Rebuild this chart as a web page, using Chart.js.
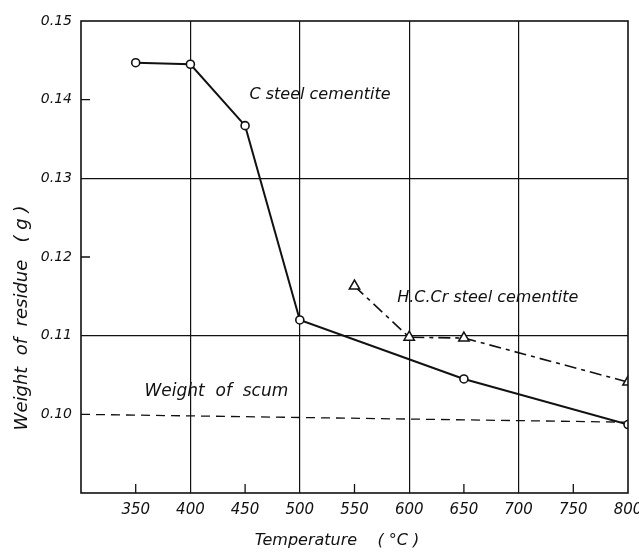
<!DOCTYPE html>
<html>
<head>
<meta charset="utf-8">
<script src="https://cdn.jsdelivr.net/npm/chart.js@4"></script>
<style>
  html, body { margin: 0; padding: 0; background: #fff; }
  #wrap { width: 639px; height: 552px; }
</style>
</head>
<body>
<div id="wrap"><canvas id="residueChart" width="639" height="552"></canvas></div>
<script>
// temperatures (°C) and residue weights (g)
const cSteelTemp = [350, 400, 450, 500, 650, 800];
const cSteelWeight = [0.1447, 0.1445, 0.1367, 0.1120, 0.1045, 0.0987];

const hccrTemp = [550, 600, 650, 800];
const hccrWeight = [0.1163, 0.1098, 0.1097, 0.1041];

const scumTemp = [300, 800];
const scumWeight = [0.1000, 0.0990];

const xTicks = [350, 400, 450, 500, 550, 600, 650, 700, 750, 800];
const yTicks = [0.10, 0.11, 0.12, 0.13, 0.14, 0.15];
const xGridFull = [400, 500, 600, 700];
const yGridFull = [0.11, 0.13];

const ink = "#111";

function pts(xs, ys) {
  return xs.map((x, i) => ({ x: x, y: ys[i] }));
}

// frame, short inner ticks, curve labels and axis titles
const paperPlugin = {
  id: "paper",
  afterDraw(chart) {
    const { ctx, chartArea: a, scales } = chart;
    const x = scales.x, y = scales.y;
    ctx.save();
    ctx.strokeStyle = ink;
    ctx.lineWidth = 1.6;
    ctx.strokeRect(a.left, a.top, a.right - a.left, a.bottom - a.top);

    ctx.lineWidth = 1.3;
    ctx.beginPath();
    xTicks.filter(v => !xGridFull.includes(v) && v !== 800).forEach(v => {
      const px = x.getPixelForValue(v);
      ctx.moveTo(px, a.bottom);
      ctx.lineTo(px, a.bottom - 9);
    });
    [0.12, 0.14].forEach(v => {
      const py = y.getPixelForValue(v);
      ctx.moveTo(a.left, py);
      ctx.lineTo(a.left + 9, py);
    });
    ctx.stroke();

    ctx.fillStyle = ink;
    ctx.textBaseline = "middle";
    ctx.textAlign = "left";
    ctx.font = "italic 16px 'DejaVu Sans'";
    ctx.fillText("C steel cementite", x.getPixelForValue(454), y.getPixelForValue(0.1406));
    ctx.fillText("H.C.Cr steel cementite", x.getPixelForValue(589), y.getPixelForValue(0.1148));
    ctx.font = "italic 17px 'DejaVu Sans'";
    ctx.fillText("Weight  of  scum", x.getPixelForValue(358), y.getPixelForValue(0.1029));

    ctx.font = "italic 16px 'DejaVu Sans'";
    ctx.textAlign = "center";
    ctx.fillText("Temperature    ( °C )", 337, 541);

    ctx.translate(22, 318);
    ctx.rotate(-Math.PI / 2);
    ctx.font = "italic 18px 'DejaVu Sans'";
    ctx.fillText("Weight  of  residue   ( g )", 0, 0);
    ctx.restore();
  }
};

const config = {
  type: "scatter",
  data: {
    datasets: [
      {
        label: "C steel cementite",
        data: pts(cSteelTemp, cSteelWeight),
        showLine: true,
        borderColor: ink,
        borderWidth: 2,
        pointStyle: "circle",
        pointRadius: 4,
        pointBorderWidth: 1.6,
        pointBackgroundColor: "#fff",
        pointBorderColor: ink,
      },
      {
        label: "H.C.Cr steel cementite",
        data: pts(hccrTemp, hccrWeight),
        showLine: true,
        borderColor: ink,
        borderWidth: 1.6,
        borderDash: [12, 5, 4, 5],
        pointStyle: "triangle",
        pointRadius: 6,
        pointBorderWidth: 1.5,
        pointBackgroundColor: "#fff",
        pointBorderColor: ink,
      },
      {
        label: "Weight of scum",
        data: pts(scumTemp, scumWeight),
        showLine: true,
        borderColor: ink,
        borderWidth: 1.3,
        borderDash: [9, 6],
        pointRadius: 0,
      },
    ],
  },
  options: {
    responsive: false,
    animation: false,
    layout: { padding: { top: 21, right: 11, left: 0, bottom: 0 } },
    plugins: {
      legend: { display: false },
      tooltip: { enabled: false },
    },
    scales: {
      x: {
        type: "linear",
        min: 300,
        max: 800,
        afterBuildTicks: (scale) => { scale.ticks = xTicks.map(v => ({ value: v })); },
        afterFit: (scale) => { scale.height = 59; scale.paddingRight = 0; scale.paddingLeft = 0; },
        border: { display: false },
        grid: {
          drawTicks: false,
          lineWidth: 1.2,
          color: (c) => xGridFull.includes(c.tick && c.tick.value) ? ink : "rgba(0,0,0,0)",
        },
        ticks: {
          padding: 8,
          color: ink,
          font: { family: "'DejaVu Sans'", size: 15, style: "italic" },
          callback: (v) => String(v),
        },
      },
      y: {
        type: "linear",
        min: 0.09,
        max: 0.15,
        afterBuildTicks: (scale) => { scale.ticks = yTicks.map(v => ({ value: v })); },
        afterFit: (scale) => { scale.width = 81; scale.paddingTop = 0; scale.paddingBottom = 0; },
        border: { display: false },
        grid: {
          drawTicks: false,
          lineWidth: 1.2,
          color: (c) => yGridFull.some(v => Math.abs(v - (c.tick ? c.tick.value : -1)) < 1e-6) ? ink : "rgba(0,0,0,0)",
        },
        ticks: {
          padding: 9,
          color: ink,
          font: { family: "'DejaVu Sans'", size: 14, style: "italic" },
          callback: (v) => Number(v).toFixed(2),
        },
      },
    },
  },
  plugins: [paperPlugin],
};

new Chart(document.getElementById("residueChart").getContext("2d"), config);
</script>
</body>
</html>
